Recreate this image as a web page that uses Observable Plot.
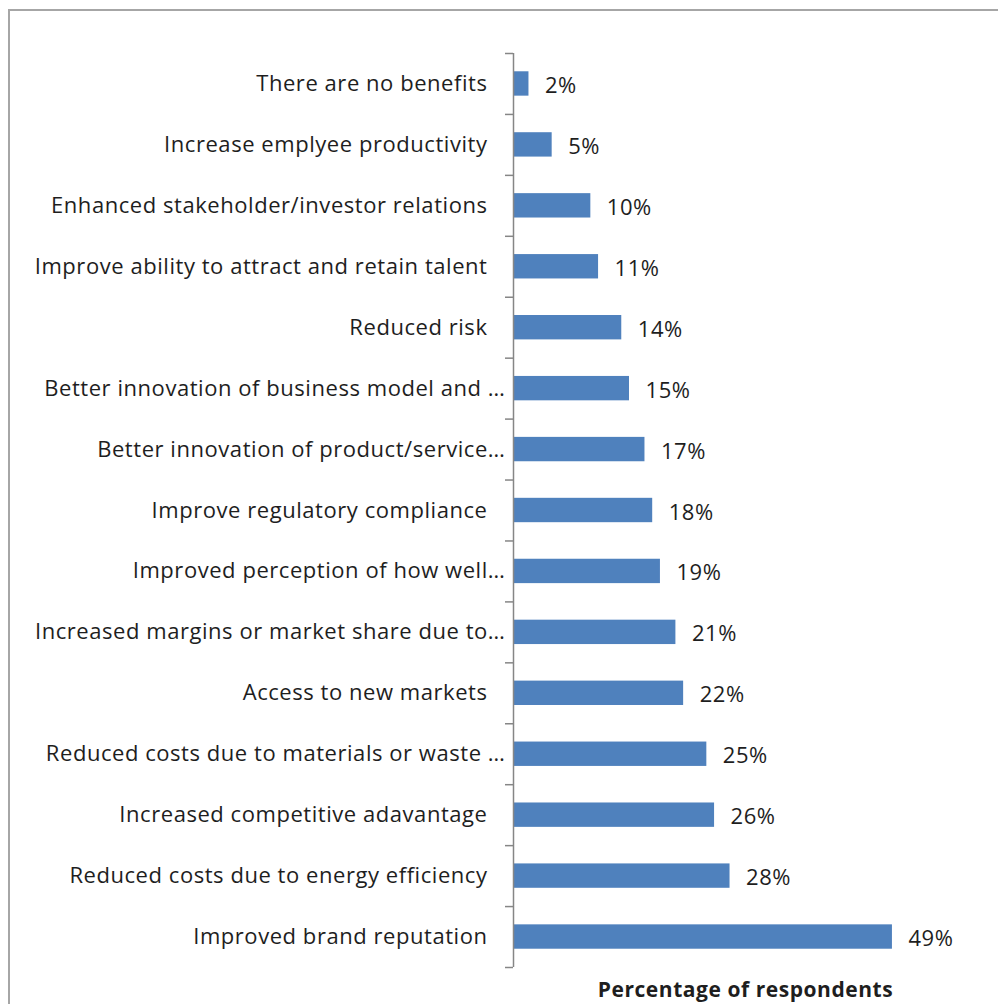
<!DOCTYPE html>
<html>
<head>
<meta charset="utf-8">
<script src="https://cdn.jsdelivr.net/npm/d3@7"></script>
<script src="https://cdn.jsdelivr.net/npm/@observablehq/plot@0.6"></script>
<style>
  html, body { margin: 0; padding: 0; background: #fff; overflow: hidden; }
  #wrap { position: relative; width: 998px; height: 1004px; overflow: hidden; }
  #chart { position: absolute; left: 0; top: 0; }
  #frame { position: absolute; left: 8px; top: 9px; width: 1100px; height: 1100px;
           border: 2px solid #a6a6a6; pointer-events: none; }
</style>
</head>
<body>
<div id="wrap"><div id="chart"></div><div id="frame"></div></div>
<script>
const categories = [
  "There are no benefits",
  "Increase emplyee productivity",
  "Enhanced stakeholder/investor relations",
  "Improve ability to attract and retain talent",
  "Reduced risk",
  "Better innovation of business model and …",
  "Better innovation of product/service…",
  "Improve regulatory compliance",
  "Improved perception of how well…",
  "Increased margins or market share due to…",
  "Access to new markets",
  "Reduced costs due to materials or waste …",
  "Increased competitive adavantage",
  "Reduced costs due to energy efficiency",
  "Improved brand reputation"
];
const values = [2, 5, 10, 11, 14, 15, 17, 18, 19, 21, 22, 25, 26, 28, 49];
const axisTitle = "Percentage of respondents";

const data = categories.map((c, i) => ({category: c, value: values[i]}));
const truncated = (c) => c.endsWith("…");

const W = 998, H = 1004;
const mTop = 53, mBottom = 37, mLeft = 513, mRight = 21;
const step = (H - mTop - mBottom) / categories.length;
const font = "'Open Sans', sans-serif";

const chart = Plot.plot({
  width: W,
  height: H,
  marginTop: mTop,
  marginBottom: mBottom,
  marginLeft: mLeft,
  marginRight: mRight,
  style: {fontFamily: font, color: "#1e1e1e", background: "transparent", overflow: "visible", letterSpacing: "0.55px"},
  x: {domain: [0, 60], axis: null},
  y: {domain: categories, paddingInner: 0.6, paddingOuter: 0.3, round: false, axis: null},
  marks: [
    Plot.barX(data, {x: "value", y: "category", fill: "#4f81bd"}),
    Plot.text(categories, {y: d => d, text: d => d, frameAnchor: "left", textAnchor: "end", dx: -26, fontSize: 22, filter: d => !truncated(d)}),
    Plot.text(categories, {y: d => d, text: d => d, frameAnchor: "left", textAnchor: "end", dx: -8, fontSize: 22, filter: truncated}),
    Plot.ruleY(categories, {y: d => d, x1: 0, x2: 0, insetLeft: -8, dy: -step / 2, stroke: "#868686", strokeWidth: 1.5}),
    Plot.ruleY([categories[categories.length - 1]], {y: d => d, x1: 0, x2: 0, insetLeft: -8, dy: step / 2, stroke: "#868686", strokeWidth: 1.5}),
    Plot.ruleX([0], {stroke: "#868686", strokeWidth: 1.5}),
    Plot.text(data, {x: "value", y: "category", text: d => d.value + "%", textAnchor: "start", dx: 16, dy: 2, fontSize: 22}),
    Plot.text([axisTitle], {frameAnchor: "bottom", dy: 29, fontSize: 21, fontWeight: "bold", text: d => d})
  ]
});
document.getElementById("chart").appendChild(chart);
</script>
</body>
</html>
